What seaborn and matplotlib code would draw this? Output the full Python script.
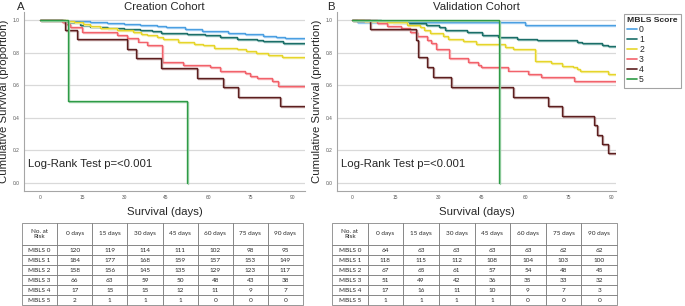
import pandas as pd
import matplotlib
matplotlib.use("Agg")
import matplotlib.pyplot as plt
import matplotlib.patheffects as pe
from matplotlib.lines import Line2D
import seaborn as sns

sns.set_theme(style="white")
plt.rcParams['font.family'] = ['Liberation Sans', 'DejaVu Sans']

# Kaplan-Meier steps (day, cumulative survival)
# Creation cohort
a0_days = [0, 8, 17.8, 23.8, 30, 35.7, 41.6, 45, 51.7, 57.7, 62, 67.2, 73.1, 79.7, 84, 87.4]
a0_surv = [1.0, 0.995, 0.988, 0.982, 0.976, 0.97, 0.963, 0.957, 0.947, 0.935, 0.93, 0.922, 0.912, 0.902, 0.896, 0.888]
a1_days = [0, 8.3, 10, 14.3, 17.8, 23.8, 30, 35.7, 40, 43, 52.3, 58.9, 64.2, 70.2, 77.3, 79.7, 86.8]
a1_surv = [1.0, 0.994, 0.985, 0.97, 0.96, 0.953, 0.947, 0.94, 0.93, 0.918, 0.912, 0.906, 0.898, 0.881, 0.877, 0.871, 0.857]
a2_days = [0, 9.5, 12, 15.5, 18, 21.4, 27.3, 33.3, 36, 38, 41.6, 44, 49.3, 55, 58.3, 62, 70.2, 73.5, 77, 81.4, 86.2]
a2_surv = [1.0, 0.995, 0.988, 0.975, 0.965, 0.953, 0.94, 0.926, 0.915, 0.905, 0.893, 0.882, 0.862, 0.852, 0.845, 0.83, 0.82, 0.81, 0.80, 0.785, 0.77]
a3_days = [0, 7.7, 8.9, 10.7, 14.9, 27.4, 31, 35.1, 38, 43.4, 51.1, 60.6, 64.2, 73.1, 74.9, 77.3, 82.7, 85]
a3_surv = [1.0, 0.988, 0.975, 0.955, 0.928, 0.905, 0.89, 0.868, 0.848, 0.74, 0.724, 0.714, 0.685, 0.673, 0.655, 0.643, 0.623, 0.595]
a4_days = [0, 8.8, 13.2, 31.2, 34.4, 43.3, 55.9, 65.2, 70.5, 85.5]
a4_surv = [1.0, 0.941, 0.882, 0.824, 0.765, 0.706, 0.647, 0.588, 0.529, 0.471]
a5_days = [0, 10, 52.4]
a5_surv = [1.0, 0.5, 0.0]

# Validation cohort
b0_days = [0, 1.6, 59.9]
b0_surv = [1.0, 0.985, 0.97]
b1_days = [0, 10, 14, 19, 25.5, 30, 32.2, 39.7, 45, 50.6, 57, 63.9, 77.8, 79.5, 86.4, 88.7]
b1_surv = [1.0, 0.995, 0.99, 0.98, 0.97, 0.955, 0.94, 0.925, 0.905, 0.895, 0.885, 0.875, 0.865, 0.857, 0.847, 0.84]
b2_days = [0, 4, 12, 19, 23.5, 25, 27, 31.5, 33.3, 38.5, 43, 53, 55.8, 63.3, 69, 72.6, 76.6, 77.8, 79, 88.7]
b2_surv = [1.0, 0.995, 0.985, 0.97, 0.955, 0.94, 0.92, 0.90, 0.885, 0.87, 0.855, 0.835, 0.82, 0.75, 0.735, 0.72, 0.71, 0.70, 0.685, 0.67]
b3_days = [0, 8.5, 12, 17, 20, 22.4, 26, 27.5, 29, 33.5, 40, 43.7, 44.5, 54, 61, 65.5, 77]
b3_surv = [1.0, 0.98, 0.965, 0.95, 0.925, 0.90, 0.88, 0.86, 0.82, 0.765, 0.745, 0.725, 0.713, 0.69, 0.67, 0.65, 0.628]
b4_days = [0, 6.2, 22.1, 23, 26, 27.9, 34.2, 55.8, 68, 72.8, 83.9, 84.8, 86.7, 88.8]
b4_surv = [1.0, 0.945, 0.88, 0.77, 0.71, 0.652, 0.591, 0.53, 0.472, 0.413, 0.356, 0.294, 0.239, 0.182]
b5_days = [0, 51]
b5_surv = [1.0, 0.0]

scores = ["0", "1", "2", "3", "4", "5"]
line_colors = ["#4b9fe1", "#1b6e68", "#e6d52a", "#f2626b", "#5c1f1f", "#2e9b46"]
shadow_colors = ["#a9d3f5", "#86b8b3", "#f3ec9a", "#f8b0b4", "#b89494", "#a0d3ab"]

# Numbers at risk
risk_cols = ["No. at\nRisk", "0 days", "15 days", "30 days", "45 days", "60 days", "75 days", "90 days"]
risk_rows = ["MBLS 0", "MBLS 1", "MBLS 2", "MBLS 3", "MBLS 4", "MBLS 5"]
risk_creation = [[120, 119, 114, 111, 102, 98, 95],
                 [184, 177, 168, 159, 157, 153, 149],
                 [158, 156, 145, 135, 129, 123, 117],
                 [66, 63, 59, 50, 48, 43, 38],
                 [17, 15, 15, 12, 11, 9, 7],
                 [2, 1, 1, 1, 0, 0, 0]]
risk_validation = [[64, 63, 63, 63, 63, 62, 62],
                   [118, 115, 112, 108, 104, 103, 100],
                   [67, 65, 61, 57, 54, 48, 45],
                   [51, 49, 42, 36, 35, 33, 32],
                   [17, 16, 11, 10, 9, 7, 3],
                   [1, 1, 1, 1, 0, 0, 0]]


def build_frame(series, x_end):
    frames = []
    for score, (days, surv) in zip(scores, series):
        days = list(days)
        surv = list(surv)
        if score != "5":
            days.append(x_end)
            surv.append(surv[-1])
        frames.append(pd.DataFrame({"day": days, "surv": surv, "score": score}))
    return pd.concat(frames, ignore_index=True)


def draw_km(ax, df, xlim, title, letter, letter_x):
    sns.lineplot(data=df, x="day", y="surv", hue="score", palette=line_colors,
                 drawstyle="steps-post", estimator=None, sort=False, legend=False,
                 linewidth=1.0, ax=ax)
    for line, shade in zip(ax.get_lines(), shadow_colors):
        line.set_path_effects([pe.SimpleLineShadow(offset=(0.7, -0.7), shadow_color=shade, alpha=1.0, rho=1.0),
                               pe.Normal()])
    ax.set_xlim(*xlim)
    ax.set_ylim(-0.049, 1.049)
    ax.set_xticks([0, 15, 30, 45, 60, 75, 90])
    ax.set_yticks([0.0, 0.2, 0.4, 0.6, 0.8, 1.0])
    ax.set_yticklabels(["0.0", "0.2", "0.4", "0.6", "0.8", "1.0"])
    ax.tick_params(labelsize=3.5, length=0, pad=3, colors="#555555")
    ax.yaxis.grid(True, color="#d9d9d9", linewidth=0.9)
    ax.xaxis.grid(False)
    ax.set_axisbelow(True)
    sns.despine(ax=ax)
    for side in ["left", "bottom"]:
        ax.spines[side].set_color("#a6a6a6")
        ax.spines[side].set_linewidth(0.8)
    ax.set_xlabel("Survival (days)", fontsize=8.2, labelpad=5)
    ax.set_ylabel("Cumulative Survival (proportion)", fontsize=8.2, labelpad=2.5)
    ax.set_title(title, fontsize=8.2, pad=1.5)
    ax.text(xlim[0] + 1.5, 0.117, "Log-Rank Test p=<0.001", fontsize=8.2, va="center")
    ax.figure.text(letter_x, 0.995, letter, fontsize=8.2, va="top")


def draw_table(ax, values):
    ax.axis("off")
    cells = [[lab] + [str(v) for v in row] for lab, row in zip(risk_rows, values)]
    tbl = ax.table(cellText=cells, colLabels=risk_cols, cellLoc="center", bbox=[0, 0, 1, 1])
    tbl.auto_set_font_size(False)
    for (r, c), cell in tbl.get_celld().items():
        cell.set_edgecolor("#6e6e6e")
        cell.set_linewidth(0.5)
        cell.get_text().set_fontsize(4.6)
        cell.get_text().set_fontfamily(["Lato", "DejaVu Sans"])
        cell.set_height(22 if r == 0 else 10)


fig = plt.figure(figsize=(6.85, 3.06), dpi=100)
ax_a = fig.add_axes([24 / 685, 1 - 191 / 306, 281 / 685, 179 / 306])
ax_b = fig.add_axes([337 / 685, 1 - 191 / 306, 279 / 685, 179 / 306])

creation = [(a0_days, a0_surv), (a1_days, a1_surv), (a2_days, a2_surv),
            (a3_days, a3_surv), (a4_days, a4_surv), (a5_days, a5_surv)]
validation = [(b0_days, b0_surv), (b1_days, b1_surv), (b2_days, b2_surv),
              (b3_days, b3_surv), (b4_days, b4_surv), (b5_days, b5_surv)]

draw_km(ax_a, build_frame(creation, 94.5), (-5.7, 94.5), "Creation Cohort", "A", 17 / 685)
draw_km(ax_b, build_frame(validation, 91.4), (-5.2, 91.4), "Validation Cohort", "B", 327 / 685)

handles = [Line2D([], [], color=c, linewidth=1.2) for c in line_colors]
leg = fig.legend(handles, scores, title="MBLS Score", loc="upper left",
                 bbox_to_anchor=(621 / 685, 1 - 11 / 306), fontsize=6.2,
                 title_fontproperties={"weight": "bold", "size": 6.1},
                 frameon=True, fancybox=False, handlelength=1.2, handletextpad=0.2,
                 labelspacing=0.12, borderpad=0.4, borderaxespad=0.3, alignment="left")
leg.get_frame().set_edgecolor("#8c8c8c")
leg.get_frame().set_linewidth(0.8)

tab_a = fig.add_axes([22 / 685, 1 / 306, 281 / 685, 82 / 306])
tab_b = fig.add_axes([332 / 685, 1 / 306, 285 / 685, 82 / 306])
draw_table(tab_a, risk_creation)
draw_table(tab_b, risk_validation)

plt.savefig("out.png", dpi=100)
plt.close()
